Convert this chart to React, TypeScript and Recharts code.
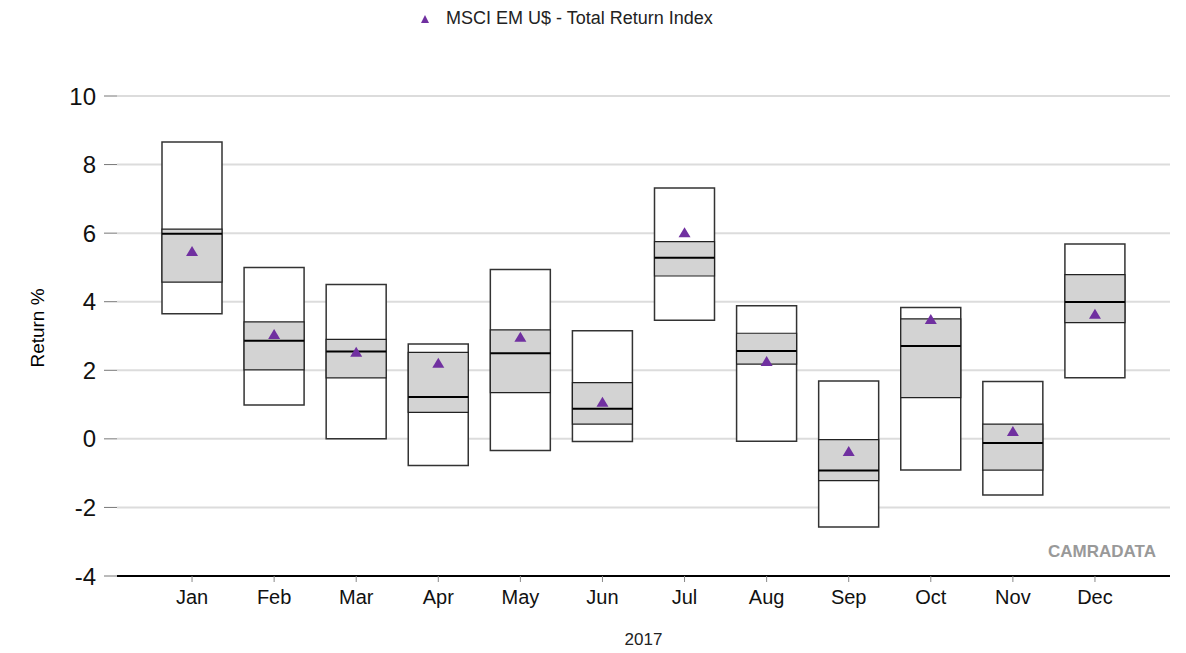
import React from 'react';
import {
    ComposedChart,
    Bar,
    Scatter,
    XAxis,
    YAxis,
    CartesianGrid,
} from 'recharts';

const months = ['Jan', 'Feb', 'Mar', 'Apr', 'May', 'Jun', 'Jul', 'Aug', 'Sep', 'Oct', 'Nov', 'Dec'];
const maxs = [8.66, 5.0, 4.5, 2.77, 4.94, 3.15, 7.32, 3.88, 1.69, 3.83, 1.67, 5.68];
const q3s = [6.12, 3.41, 2.9, 2.52, 3.18, 1.64, 5.75, 3.08, -0.02, 3.5, 0.43, 4.79];
const medians = [5.98, 2.86, 2.55, 1.22, 2.5, 0.88, 5.28, 2.56, -0.92, 2.71, -0.12, 3.99];
const q1s = [4.57, 2.01, 1.78, 0.77, 1.35, 0.43, 4.75, 2.18, -1.22, 1.2, -0.91, 3.39];
const mins = [3.65, 0.99, 0.0, -0.78, -0.34, -0.08, 3.46, -0.07, -2.57, -0.91, -1.64, 1.78];
const indexReturns = [5.45, 3.03, 2.51, 2.19, 2.95, 1.05, 6.0, 2.24, -0.38, 3.47, 0.2, 3.62];
const yTicks = [-4, -2, 0, 2, 4, 6, 8, 10];

const data = months.map((m, i) => ({
    month: m,
    range: [mins[i], maxs[i]],
    iqr: [q1s[i], q3s[i]],
    median: medians[i],
    index: indexReturns[i],
}));

const FONT = '"Liberation Sans", Arial, sans-serif';
const PURPLE = '#7030a0';
const BOX_W = 60;
const PAD = { left: 34, right: 34 };

const Triangle = (props: any) => {
    const { cx, cy } = props;
    if (cx == null || cy == null) return null;
    return <polygon points={`${cx},${cy - 6} ${cx - 6},${cy + 4} ${cx + 6},${cy + 4}`} fill={PURPLE} />;
};

const MedianLine = (props: any) => {
    const { cx, cy } = props;
    if (cx == null || cy == null) return null;
    return <line x1={cx - BOX_W / 2} x2={cx + BOX_W / 2} y1={cy} y2={cy} stroke="#000" strokeWidth={2} />;
};

const YLabel = (props: any) => {
    const vb = props.viewBox || {};
    const cy = vb.y + vb.height / 2 - 8;
    return (
        <text x={37} y={cy} transform={`rotate(-90, 37, ${cy})`} textAnchor="middle" dominantBaseline="central"
            fontSize={19} fontFamily={FONT} fill="#000">
            Return %
        </text>
    );
};

export default function App() {
    return (
        <div style={{ position: 'absolute', left: 0, top: 0, width: 1186, height: 653, background: '#fff' }}>
            <div style={{ position: 'absolute', left: 419, top: 8, display: 'flex', alignItems: 'center', fontFamily: FONT, fontSize: 18, color: '#222' }}>
                <svg width={12} height={12} style={{ marginRight: 15 }}>
                    <polygon points="6,2 2,10 10,10" fill={PURPLE} />
                </svg>
                <span>MSCI EM U$ - Total Return Index</span>
            </div>
            <ComposedChart width={1186} height={653} data={data} margin={{ top: 96, right: 16, bottom: 0, left: 0 }}>
                <CartesianGrid horizontal vertical={false} stroke="#dcdcdc" strokeWidth={2} />
                <XAxis xAxisId="main" dataKey="month" padding={PAD} height={77}
                    axisLine={{ stroke: '#000', strokeWidth: 2 }} tickLine={{ stroke: '#888' }} tickSize={6} tickMargin={8}
                    tick={{ fontSize: 20, fontFamily: FONT, fill: '#111' }}
                    label={{ value: '2017', position: 'insideBottom', offset: 8, fontSize: 17, fontFamily: FONT, fill: '#222' }} />
                <XAxis xAxisId="iqr" dataKey="month" padding={PAD} height={0} hide />
                <YAxis domain={[-4, 10]} ticks={yTicks} width={117} axisLine={false}
                    tickLine={{ stroke: '#777' }} tickSize={13} tickMargin={8}
                    tick={{ fontSize: 24, fontFamily: FONT, fill: '#111' }} label={<YLabel />} />
                <Bar xAxisId="main" dataKey="range" barSize={BOX_W} fill="#fff" stroke="#333" strokeWidth={1.5} isAnimationActive={false} />
                <Bar xAxisId="iqr" dataKey="iqr" barSize={BOX_W} fill="#d3d3d3" stroke="#222" strokeWidth={1.2} isAnimationActive={false} />
                <Scatter xAxisId="main" dataKey="median" shape={<MedianLine />} isAnimationActive={false} />
                <Scatter xAxisId="main" dataKey="index" shape={<Triangle />} isAnimationActive={false} />
            </ComposedChart>
            <div style={{ position: 'absolute', left: 1048, top: 542, fontFamily: FONT, fontWeight: 'bold', fontSize: 17, color: '#999' }}>
                CAMRADATA
            </div>
        </div>
    );
}
